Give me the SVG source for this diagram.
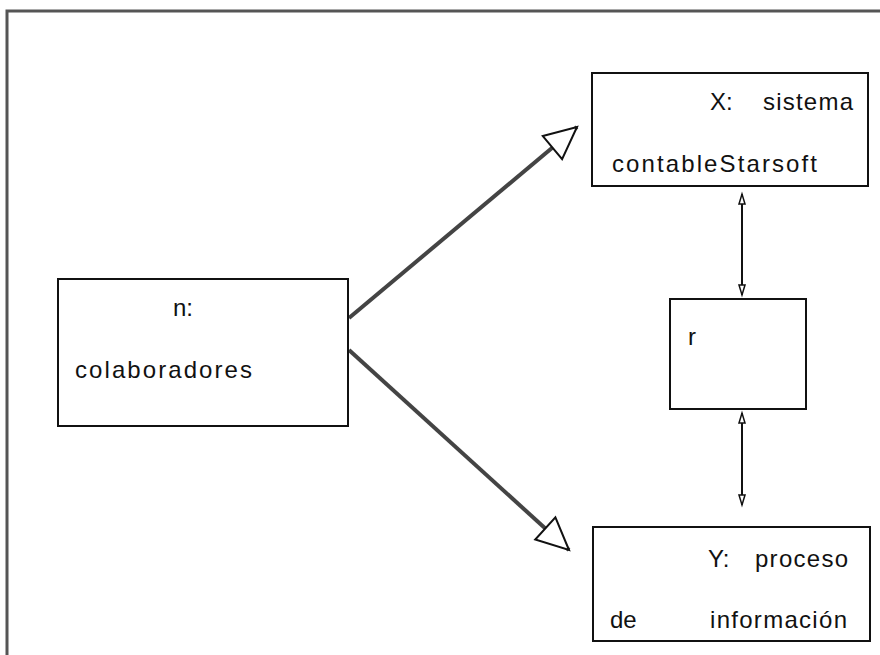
<svg xmlns="http://www.w3.org/2000/svg" width="880" height="655" viewBox="0 0 880 655">
<defs>
<style>
.box{fill:#fff;stroke:#111;stroke-width:2}
.t{font-family:"Liberation Sans",Arial,sans-serif;font-size:24px;fill:#111}
.big{fill:none;stroke:#444;stroke-width:4}
.thin{fill:none;stroke:#111;stroke-width:2}
</style>
<marker id="open" markerUnits="userSpaceOnUse" markerWidth="40" markerHeight="40" viewBox="-2 -18 40 36" refX="32" refY="0" orient="auto">
<path d="M0,-15 L32,0 L0,15 Z" fill="#fff" stroke="#111" stroke-width="2"/>
</marker>
<marker id="small" markerUnits="userSpaceOnUse" markerWidth="14" markerHeight="14" viewBox="-1 -5 14 10" refX="10" refY="0" orient="auto-start-reverse">
<path d="M0,-3 L10,0 L0,3 Z" fill="#fff" stroke="#111" stroke-width="1.5"/>
</marker>
</defs>
<rect width="880" height="655" fill="#fff"/>
<g id="frame">
<path d="M7,655 L7,11 L880,11" fill="none" stroke="#555" stroke-width="3"/>
</g>
<g id="connectors">
<line class="big" x1="349" y1="318" x2="577" y2="127" marker-end="url(#open)"/>
<line class="big" x1="349" y1="350" x2="569" y2="550" marker-end="url(#open)"/>
<line class="thin" x1="742" y1="194" x2="742" y2="295" marker-start="url(#small)" marker-end="url(#small)"/>
<line class="thin" x1="742" y1="413" x2="742" y2="505" marker-start="url(#small)" marker-end="url(#small)"/>
</g>
<g id="n">
<rect class="box" x="58" y="279" width="290" height="147"/>
<text class="t" x="173" y="316">n:</text>
<text class="t" x="75" y="378" textLength="177" lengthAdjust="spacing">colaboradores</text>
</g>
<g id="X">
<rect class="box" x="592" y="73" width="276" height="113"/>
<text class="t" x="710" y="110">X:</text>
<text class="t" x="763" y="110" textLength="90" lengthAdjust="spacing">sistema</text>
<text class="t" x="612" y="172" textLength="205" lengthAdjust="spacing">contableStarsoft</text>
</g>
<g id="r">
<rect class="box" x="670" y="299" width="136" height="110"/>
<text class="t" x="688" y="345">r</text>
</g>
<g id="Y">
<rect class="box" x="593" y="527" width="277" height="114"/>
<text class="t" x="708" y="567">Y:</text>
<text class="t" x="755" y="567" textLength="93" lengthAdjust="spacing">proceso</text>
<text class="t" x="610" y="628">de</text>
<text class="t" x="710" y="628" textLength="137" lengthAdjust="spacing">información</text>
</g>
</svg>
